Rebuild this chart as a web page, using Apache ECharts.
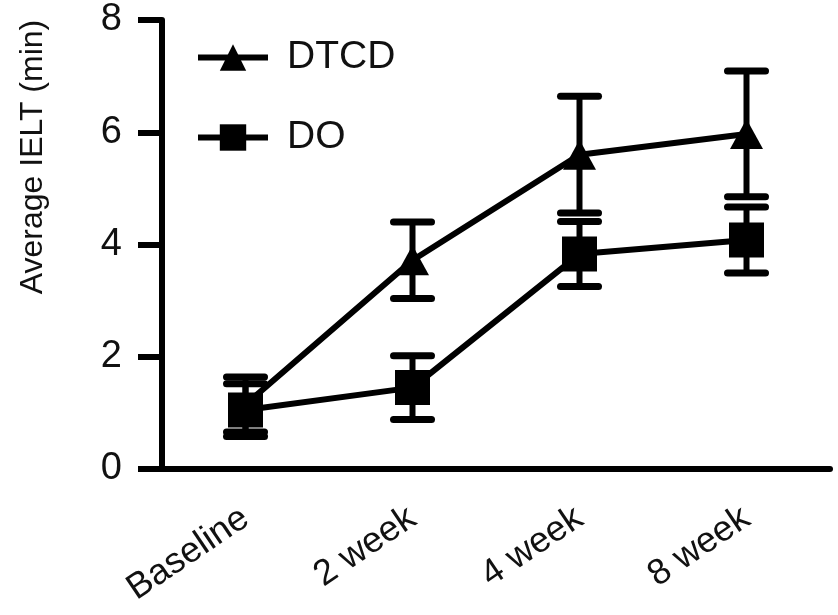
<!DOCTYPE html>
<html>
<head>
<meta charset="utf-8">
<script src="https://cdn.jsdelivr.net/npm/echarts@6/dist/echarts.min.js"></script>
<style>
html,body{margin:0;padding:0;background:#fff;}
#chart{width:838px;height:615px;}
</style>
</head>
<body>
<div id="chart"></div>
<script>
const categories = ['Baseline', '2 week', '4 week', '8 week'];
const seriesNames = ['DTCD', 'DO'];
const dtcdMean = [1.15, 3.72, 5.6, 5.97];
const dtcdSD = [0.49, 0.68, 1.04, 1.12];
const doMean = [1.05, 1.45, 3.83, 4.08];
const doSD = [0.47, 0.57, 0.58, 0.59];
const yTicks = [0, 2, 4, 6, 8];
const yTitle = 'Average IELT (min)';

const FONT = 'Liberation Sans, Arial, Helvetica, sans-serif';
const chart = echarts.init(document.getElementById('chart'), null, {renderer: 'canvas'});

function errData(mean, sd) {
  return mean.map((m, i) => [i, m, sd[i]]);
}
function renderErr(params, api) {
  const x = api.value(0), m = api.value(1), sd = api.value(2);
  const top = api.coord([x, m + sd]);
  const bot = api.coord([x, m - sd]);
  const hw = 19;
  const st = {stroke: '#000', lineWidth: 7, lineCap: 'round'};
  return {
    type: 'group',
    children: [
      {type: 'line', shape: {x1: top[0], y1: top[1], x2: bot[0], y2: bot[1]}, style: {stroke: '#000', lineWidth: 6}},
      {type: 'line', shape: {x1: top[0] - hw, y1: top[1], x2: top[0] + hw, y2: top[1]}, style: st},
      {type: 'line', shape: {x1: bot[0] - hw, y1: bot[1], x2: bot[0] + hw, y2: bot[1]}, style: st}
    ]
  };
}

const option = {
  animation: false,
  backgroundColor: '#fff',
  grid: {left: 162, right: 8, top: 20, bottom: 146, containLabel: false},
  legend: {
    orient: 'vertical',
    left: 190,
    top: 33,
    itemWidth: 70,
    itemHeight: 33,
    itemGap: 41,
    data: seriesNames,
    lineStyle: {width: 6, color: '#000'},
    itemStyle: {color: '#000'},
    textStyle: {fontFamily: FONT, fontSize: 39, color: '#111', lineHeight: 33, padding: [4, 0, 0, 14]}
  },
  graphic: [{
    type: 'text',
    x: 33, y: 157,
    rotation: Math.PI / 2,
    style: {text: yTitle, fontFamily: FONT, fontSize: 32, fill: '#111', align: 'center', verticalAlign: 'middle'}
  }],
  xAxis: {
    type: 'category',
    data: categories,
    boundaryGap: true,
    axisLine: {lineStyle: {color: '#000', width: 6}},
    axisTick: {alignWithLabel: true, length: 25, lineStyle: {color: '#000', width: 6}},
    axisLabel: {rotate: 34, margin: 46, fontFamily: FONT, fontSize: 36, color: '#111'},
    splitLine: {show: false}
  },
  yAxis: {
    type: 'value',
    min: 0, max: 8, interval: 2,
    axisLine: {show: true, lineStyle: {color: '#000', width: 6}},
    axisTick: {show: true, length: 24, lineStyle: {color: '#000', width: 6}},
    axisLabel: {margin: 40, fontFamily: FONT, fontSize: 38, color: '#111',
      formatter: v => yTicks.includes(v) ? String(v) : ''},
    splitLine: {show: false}
  },
  series: [
    {type: 'custom', name: 'DTCD-err', renderItem: renderErr, data: errData(dtcdMean, dtcdSD), encode: {x: 0, y: 1}, z: 2, silent: true},
    {type: 'custom', name: 'DO-err', renderItem: renderErr, data: errData(doMean, doSD), encode: {x: 0, y: 1}, z: 2, silent: true},
    {
      type: 'line', name: 'DTCD', data: dtcdMean, z: 3,
      symbol: 'triangle', symbolSize: [33, 30],
      lineStyle: {color: '#000', width: 6},
      itemStyle: {color: '#000'}
    },
    {
      type: 'line', name: 'DO', data: doMean, z: 3,
      symbol: 'rect', symbolSize: 35,
      lineStyle: {color: '#000', width: 6},
      itemStyle: {color: '#000'}
    }
  ]
};
chart.setOption(option);
</script>
</body>
</html>
